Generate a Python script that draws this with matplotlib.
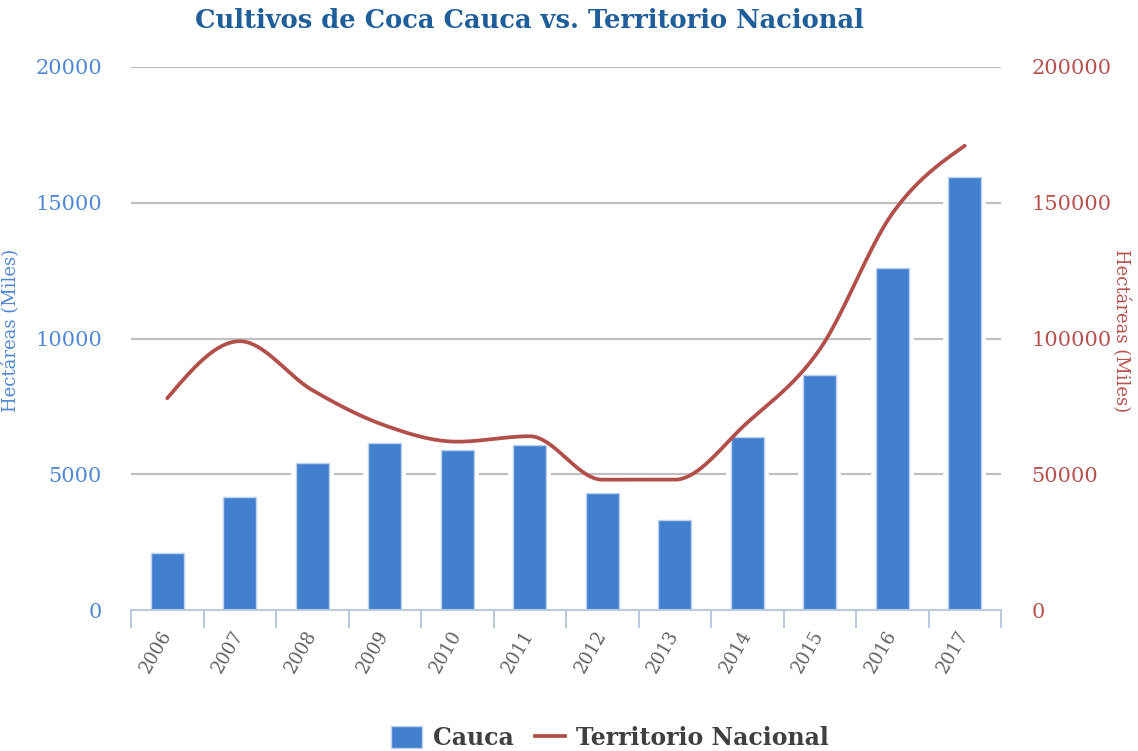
import numpy as np
import matplotlib
matplotlib.use("Agg")
import matplotlib.pyplot as plt
from matplotlib.patches import Patch
from matplotlib.lines import Line2D

years = ["2006", "2007", "2008", "2009", "2010", "2011",
         "2012", "2013", "2014", "2015", "2016", "2017"]
cauca = [2100, 4170, 5420, 6140, 5910, 6070, 4320, 3330, 6390, 8660, 12600, 15960]
nacional = [78000, 99000, 81000, 68000, 62000, 64000,
            48000, 48000, 69000, 96000, 146000, 171000]

left_ticks = [0, 5000, 10000, 15000, 20000]
right_ticks = [0, 50000, 100000, 150000, 200000]

BAR = "#427FCD"
BAR_EDGE = "#BFD2EC"
LINE = "#B24F4A"
LEFT_TXT = "#4F88D6"
RIGHT_TXT = "#B5524E"
TITLE = "#1F5E99"
AXIS = "#BACADF"
GRID = "#C0C0C0"
SERIF = "DejaVu Serif"


def monotone(xs, ys, n=40):
    """Monotone cubic (Fritsch-Carlson style) curve through the points."""
    xs = np.asarray(xs, float)
    ys = np.asarray(ys, float)
    m = len(xs)
    h = np.diff(xs)
    s = np.diff(ys) / h
    t = np.zeros(m)
    for i in range(1, m - 1):
        s0, s1 = s[i - 1], s[i]
        p = (s0 * h[i] + s1 * h[i - 1]) / (h[i - 1] + h[i])
        t[i] = (np.sign(s0) + np.sign(s1)) * min(abs(s0), abs(s1), 0.5 * abs(p))
    t[0] = (3 * s[0] - t[1]) / 2
    t[-1] = (3 * s[-1] - t[-2]) / 2
    u = np.linspace(0, 1, n)
    px, py = [], []
    for i in range(m - 1):
        dx = h[i] / 3
        bx = [xs[i], xs[i] + dx, xs[i + 1] - dx, xs[i + 1]]
        by = [ys[i], ys[i] + dx * t[i], ys[i + 1] - dx * t[i + 1], ys[i + 1]]
        bx_ = ((1 - u) ** 3) * bx[0] + 3 * ((1 - u) ** 2) * u * bx[1] \
            + 3 * (1 - u) * u ** 2 * bx[2] + u ** 3 * bx[3]
        by_ = ((1 - u) ** 3) * by[0] + 3 * ((1 - u) ** 2) * u * by[1] \
            + 3 * (1 - u) * u ** 2 * by[2] + u ** 3 * by[3]
        start = 0 if i == 0 else 1
        px.extend(bx_[start:])
        py.extend(by_[start:])
    return np.array(px), np.array(py)


fig = plt.figure(figsize=(11.38, 7.51), dpi=100)
ax = fig.add_axes([131 / 1138, 1 - 610 / 751, 870 / 1138, 543 / 751])
ax2 = ax.twinx()

x = np.arange(len(years))

# horizontal gridlines behind everything
for v in left_ticks[1:]:
    ax.axhline(v, color=GRID, lw=1.6, zorder=0.5)

# bars, with a white halo that breaks the gridlines around them
ax.bar(x, cauca, width=0.455, color="white", edgecolor="white", lw=7, zorder=1)
ax.bar(x, cauca, width=0.455, color=BAR, edgecolor=BAR_EDGE, lw=1.0, zorder=2)

ax.set_xlim(-0.5, len(years) - 0.5)
ax.set_ylim(0, 20000)
ax2.set_ylim(0, 200000)

# smoothed national line on the secondary axis
sx, sy = monotone(x, nacional)
ax2.plot(sx, sy, color=LINE, lw=2.7, solid_capstyle="round", zorder=3)

# spines
for a in (ax, ax2):
    for s in ("top", "left", "right", "bottom"):
        a.spines[s].set_visible(False)
ax.spines["bottom"].set_visible(True)
ax.spines["bottom"].set_color(AXIS)
ax.spines["bottom"].set_linewidth(1.5)
ax.spines["bottom"].set_zorder(5)

# x ticks: boundaries as marks, centres carry labels
ax.set_xticks(np.arange(-0.5, len(years), 1.0))
ax.set_xticklabels([])
ax.tick_params(axis="x", which="major", length=13, width=1.5, color=AXIS)
ax.set_xticks(x, minor=True)
ax.set_xticklabels(years, minor=True, rotation=60, ha="right", va="center",
                   rotation_mode="anchor", family=SERIF, fontsize=13, color="#606060")
ax.tick_params(axis="x", which="minor", length=0, pad=16)

# y ticks
ax.set_yticks(left_ticks)
ax.set_yticklabels([str(v) for v in left_ticks], family=SERIF, fontsize=15, color=LEFT_TXT)
ax.tick_params(axis="y", length=0, pad=21)
ax2.set_yticks(right_ticks)
ax2.set_yticklabels([str(v) for v in right_ticks], family=SERIF, fontsize=15, color=RIGHT_TXT)
ax2.tick_params(axis="y", length=0, pad=22)

ax.set_ylabel("Hectáreas (Miles)", family=SERIF, fontsize=13, color=LEFT_TXT)
ax.yaxis.set_label_coords(-0.128, 0.515)
ax2.set_ylabel("Hectáreas (Miles)", family=SERIF, fontsize=13, color=RIGHT_TXT,
               rotation=270, va="bottom")
ax2.yaxis.set_label_coords(1.128, 0.515)

fig.text(529 / 1138, 1 - 20 / 751, "Cultivos de Coca Cauca vs. Territorio Nacional",
         ha="center", va="center", family=SERIF, fontweight="bold",
         fontsize=18.5, color=TITLE)

handles = [Patch(facecolor=BAR, edgecolor=BAR_EDGE, lw=1),
           Line2D([], [], color=LINE, lw=2.7)]
fig.legend(handles, ["Cauca", "Territorio Nacional"], loc="center",
           bbox_to_anchor=(610 / 1138, 1 - 738 / 751), ncol=2, frameon=False,
           prop={"family": SERIF, "weight": "bold", "size": 17},
           labelcolor="#404040", handlelength=1.3, handleheight=1.1,
           handletextpad=0.45, columnspacing=0.9)

fig.savefig("out.png", dpi=100, facecolor="white")
